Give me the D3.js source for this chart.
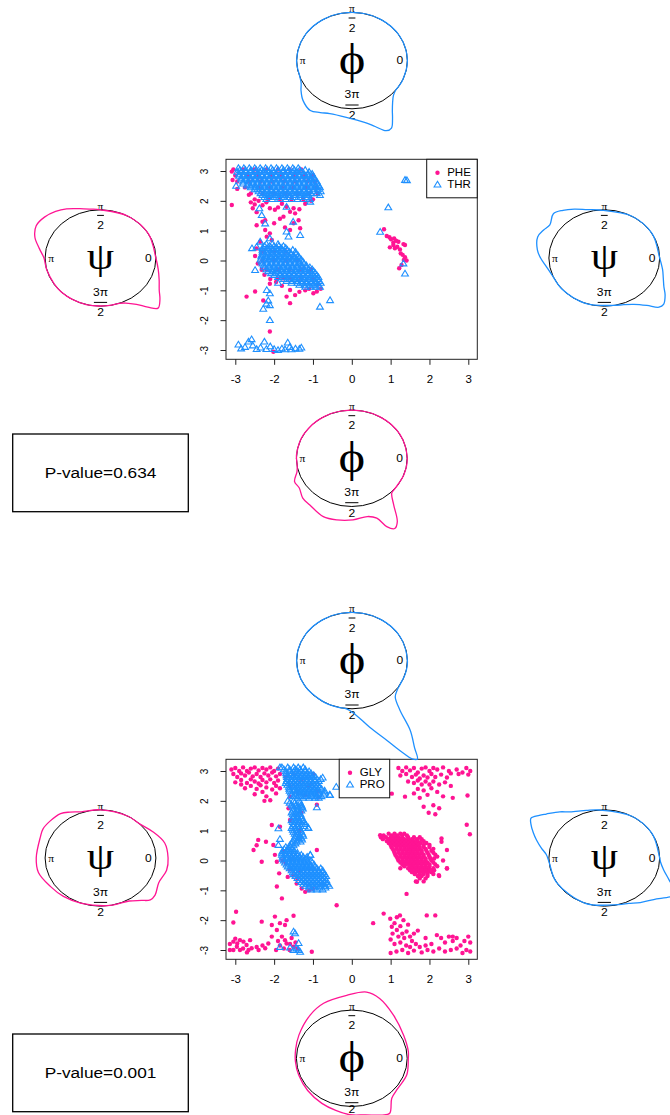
<!DOCTYPE html>
<html><head><meta charset="utf-8">
<script src="https://cdn.jsdelivr.net/npm/d3@7"></script>
<style>body{margin:0;background:#fff}svg{display:block}</style>
</head><body>
<svg id="c" width="670" height="1115"></svg>
<script>
// ---------------- DATA ----------------
const TICKS = [-3,-2,-1,0,1,2,3];
const PVALUES = ["P-value=0.634", "P-value=0.001"];
const LEG_TOP = ["PHE", "THR"];
const LEG_BOT = ["GLY", "PRO"];

// dense clusters: [y, x1, x2, ...]
const PHE_rows = [
 [3.05,-3.05,-2.8,-2.5,-2.2,-1.9,-1.6,-1.3],
 [2.85,-3.0,-2.7,-2.4,-2.1,-1.8,-1.5,-1.2,-1.0],
 [2.65,-2.95,-2.65,-2.35,-2.05,-1.75,-1.45,-1.15,-0.95],
 [2.45,-2.75,-2.4,-2.1,-1.8,-1.5,-1.2,-0.9],
 [2.25,-2.6,-2.3,-2.0,-1.7,-1.4,-1.1,-0.88],
 [2.05,-2.5,-2.15,-1.85,-1.55,-1.25,-1.0],
 [0.3,-2.3,-2.0,-1.7],
 [0.0,-2.3,-2.0,-1.7,-1.4],
 [-0.3,-2.2,-1.9,-1.6,-1.3,-1.05],
 [-0.6,-1.9,-1.6,-1.3,-1.0]
];
const PHE_pts = [
 [-3.09,2.98],[-3.07,2.7],[-3.09,1.86],[-2.95,2.4],[-2.65,2.2],[-2.6,1.95],[-2.5,1.88],[-2.55,1.75],[-2.45,1.62],[-2.4,2.0],
 [-2.3,1.85],[-2.2,1.95],[-2.11,1.75],[-1.98,1.7],[-1.9,1.78],[-1.8,1.9],[-1.68,1.8],[-1.59,1.63],[-1.5,1.75],[-1.46,1.58],
 [-1.35,1.72],[-1.2,1.9],[-1.05,2.0],[-1.37,1.35],[-1.33,1.08],[-1.85,1.4],[-1.76,1.47],[-2.23,1.35],[-2.45,1.18],[-2.3,1.3],
 [-2.23,1.02],[-2.11,0.91],[-2.19,0.8],[-2.06,0.69],[-1.72,1.11],[-1.59,1.02],[-1.5,1.25],[-2.0,1.25],
 [-2.45,0.4],[-2.36,0.63],[-2.49,0.15],[-2.42,-0.1],[-2.32,-0.31],[-2.25,-0.48],[-2.1,-0.62],[-2.11,-0.78],[-1.95,-0.72],
 [-1.8,-0.85],[-1.76,-0.6],[-1.59,-0.99],[-1.68,-1.21],[-1.59,-1.43],[-1.46,-1.16],[-1.35,-1.05],[-1.2,-1.0],[-1.1,-0.95],
 [-0.99,-1.1],[-0.9,-1.04],[-0.8,-0.95],[-0.85,-0.8],[-2.71,-1.21],[-2.49,-1.04],[-2.28,-1.34],[-2.11,-2.38],[-2.02,-3.06],
 [0.83,1.05],[0.9,0.82],[0.97,0.78],[1.01,0.71],[1.09,0.74],[1.14,0.66],[1.2,0.63],[1.07,0.52],[0.98,0.44],[1.11,0.41],
 [1.17,0.46],[1.24,0.37],[1.33,0.55],[1.37,0.52],[1.26,0.24],[1.31,0.19],[1.37,0.11],[1.41,0.0],[1.34,0.02],[1.22,-0.26],
 [1.28,-0.15],[1.07,0.6]
];
const THR_rows = [
 [3.10,-2.92,-2.78,-2.64,-2.5,-2.36,-2.22,-2.08,-1.94,-1.8,-1.66,-1.52,-1.38],
 [3.035,-2.88,-2.74,-2.6,-2.46,-2.32,-2.18,-2.04,-1.9,-1.76,-1.62,-1.48,-1.34,-1.2],
 [2.97,-2.95,-2.85,-2.73,-2.61,-2.49,-2.37,-2.25,-2.13,-2.01,-1.89,-1.77,-1.65,-1.53,-1.41,-1.29,-1.1],
 [2.905,-2.9,-2.79,-2.67,-2.55,-2.43,-2.31,-2.19,-2.07,-1.95,-1.83,-1.71,-1.59,-1.47,-1.35,-1.23,-1.12,-1.02],
 [2.84,-2.9,-2.79,-2.67,-2.55,-2.43,-2.31,-2.19,-2.07,-1.95,-1.83,-1.71,-1.59,-1.47,-1.35,-1.23,-1.11,-1.0],
 [2.775,-2.85,-2.73,-2.61,-2.49,-2.37,-2.25,-2.13,-2.01,-1.89,-1.77,-1.65,-1.53,-1.41,-1.29,-1.17,-1.05,-0.97],
 [2.71,-2.85,-2.73,-2.61,-2.49,-2.37,-2.25,-2.13,-2.01,-1.89,-1.77,-1.65,-1.53,-1.41,-1.29,-1.17,-1.05,-0.95],
 [2.645,-2.8,-2.67,-2.55,-2.43,-2.31,-2.19,-2.07,-1.95,-1.83,-1.71,-1.59,-1.47,-1.35,-1.23,-1.11,-1.0,-0.9],
 [2.58,-2.8,-2.67,-2.55,-2.43,-2.31,-2.19,-2.07,-1.95,-1.83,-1.71,-1.59,-1.47,-1.35,-1.23,-1.11,-0.99,-0.9],
 [2.515,-2.7,-2.61,-2.49,-2.37,-2.25,-2.13,-2.01,-1.89,-1.77,-1.65,-1.53,-1.41,-1.29,-1.17,-1.05,-0.93,-0.85],
 [2.45,-2.6,-2.49,-2.37,-2.25,-2.13,-2.01,-1.89,-1.77,-1.65,-1.53,-1.41,-1.29,-1.17,-1.05,-0.93,-0.82],
 [2.385,-2.5,-2.43,-2.31,-2.19,-2.07,-1.95,-1.83,-1.71,-1.59,-1.47,-1.35,-1.23,-1.11,-0.99,-0.87],
 [2.32,-2.4,-2.31,-2.19,-2.07,-1.95,-1.83,-1.71,-1.59,-1.47,-1.35,-1.23,-1.11,-0.99,-0.8],
 [2.255,-2.35,-2.25,-2.13,-2.01,-1.89,-1.77,-1.65,-1.53,-1.41,-1.29,-1.17,-1.05,-0.9],
 [2.19,-2.3,-2.19,-2.07,-1.95,-1.83,-1.71,-1.59,-1.47,-1.35,-1.23,-1.11,-0.82],
 [2.125,-2.25,-2.13,-2.0,-1.88,-1.76,-1.62,-1.47,-1.32,-1.17],
 [2.06,-2.2,-2.05,-1.85,-1.7,-1.55,-1.4,-1.25,-1.08],
 [0.55,-2.2,-2.05,-1.9],
 [0.485,-2.25,-2.12,-2.0,-1.88,-1.76],
 [0.42,-2.3,-2.18,-2.06,-1.94,-1.82,-1.7],
 [0.355,-2.3,-2.14,-2.02,-1.9,-1.78,-1.66,-1.52],
 [0.29,-2.3,-2.2,-2.08,-1.96,-1.84,-1.72,-1.6,-1.45],
 [0.225,-2.3,-2.16,-2.04,-1.92,-1.8,-1.68,-1.56,-1.44],
 [0.16,-2.33,-2.22,-2.1,-1.98,-1.86,-1.74,-1.62,-1.5,-1.38],
 [0.095,-2.33,-2.19,-2.07,-1.95,-1.83,-1.71,-1.59,-1.47,-1.35],
 [0.03,-2.35,-2.25,-2.13,-2.01,-1.89,-1.77,-1.65,-1.53,-1.41,-1.3],
 [-0.035,-2.32,-2.19,-2.07,-1.95,-1.83,-1.71,-1.59,-1.47,-1.35,-1.26],
 [-0.10,-2.3,-2.19,-2.07,-1.95,-1.83,-1.71,-1.59,-1.47,-1.35,-1.23],
 [-0.165,-2.27,-2.13,-2.01,-1.89,-1.77,-1.65,-1.53,-1.41,-1.29,-1.17],
 [-0.23,-2.25,-2.13,-2.01,-1.89,-1.77,-1.65,-1.53,-1.41,-1.29,-1.17,-1.08],
 [-0.295,-2.2,-2.07,-1.95,-1.83,-1.71,-1.59,-1.47,-1.35,-1.23,-1.11,-1.02],
 [-0.36,-2.15,-2.03,-1.91,-1.79,-1.67,-1.55,-1.43,-1.31,-1.19,-1.07,-0.98],
 [-0.425,-2.08,-1.97,-1.85,-1.73,-1.61,-1.49,-1.37,-1.25,-1.13,-1.02,-0.94],
 [-0.49,-2.0,-1.85,-1.73,-1.61,-1.49,-1.37,-1.25,-1.13,-1.01,-0.9],
 [-0.555,-1.9,-1.79,-1.67,-1.55,-1.43,-1.31,-1.19,-1.07,-0.95,-0.86],
 [-0.62,-1.75,-1.6,-1.48,-1.36,-1.24,-1.12,-1.0,-0.88],
 [-0.685,-1.68,-1.54,-1.42,-1.3,-1.18,-1.06,-0.94,-0.84],
 [-0.75,-1.9,-1.55,-1.4,-1.28,-1.16,-1.04,-0.92,-0.8],
 [-0.815,-1.35,-1.22,-1.1,-0.98,-0.87],
 [-0.88,-1.2,-1.05,-0.93,-0.82]
];
const THR_pts = [
 [-2.98,2.5],[-2.38,1.75],[-2.32,1.52],[-2.23,1.24],[-1.68,0.97],[-1.33,0.85],[-1.51,1.3],[-1.63,0.8],[-2.45,0.46],[-2.11,0.74],
 [-2.57,0.41],[-2.49,-0.32],[-2.36,0.63],[-1.07,1.97],[-1.68,1.8],[-2.19,-0.99],[-2.11,-1.1],[-2.15,-1.34],[-2.11,-1.5],[-2.28,-1.62],
 [-2.2,-1.45],[-2.11,-2.0],[-0.82,-1.55],[-0.56,-1.33],[1.37,2.7],[1.42,2.69],[0.94,1.78],[0.73,0.96],[1.33,-0.1],[1.37,-0.44],
 [-2.92,-2.82],[-2.85,-2.95],[-2.75,-2.9],[-2.66,-2.72],[-2.58,-2.64],[-2.55,-2.85],[-2.45,-2.97],[-2.35,-2.92],[-2.25,-2.72],
 [-2.2,-2.97],[-2.1,-2.88],[-2.0,-2.97],[-1.9,-3.0],[-1.8,-2.95],[-1.72,-2.98],[-1.65,-2.75],[-1.6,-2.9],[-1.55,-2.98],
 [-1.45,-2.95],[-1.35,-2.96],[-1.3,-2.92]
];
const GLY_rows = [
 [0.9,0.95,1.1,1.25,1.35],
 [0.84,0.82,1.03,1.17,1.3,1.42],
 [0.78,0.75,0.88,1.0,1.1,1.2,1.3,1.45,1.6,1.75],
 [0.715,0.8,0.95,1.05,1.15,1.25,1.35,1.45,1.55,1.68,1.8],
 [0.65,0.9,1.0,1.1,1.2,1.3,1.4,1.5,1.6,1.7,1.85],
 [0.585,0.95,1.05,1.15,1.25,1.35,1.45,1.55,1.65,1.77,1.92],
 [0.52,1.0,1.1,1.2,1.3,1.4,1.5,1.6,1.7,1.85,2.0],
 [0.455,1.02,1.15,1.25,1.35,1.45,1.55,1.65,1.75,1.85,2.0],
 [0.39,1.05,1.15,1.25,1.35,1.45,1.55,1.65,1.75,1.9,2.1],
 [0.325,1.08,1.2,1.3,1.4,1.5,1.6,1.7,1.8,1.92,2.05],
 [0.26,1.1,1.2,1.3,1.4,1.5,1.6,1.7,1.8,1.95,2.1],
 [0.195,1.12,1.25,1.35,1.45,1.55,1.65,1.75,1.85,1.98,2.15],
 [0.13,1.15,1.25,1.35,1.45,1.55,1.65,1.75,1.85,2.0,2.2],
 [0.065,1.18,1.3,1.4,1.5,1.6,1.7,1.8,1.9,2.02,2.12],
 [0.0,1.2,1.3,1.4,1.5,1.6,1.7,1.8,1.9,2.05,2.35],
 [-0.065,1.25,1.35,1.45,1.55,1.65,1.75,1.85,1.95,2.1],
 [-0.13,1.3,1.4,1.5,1.6,1.7,1.8,1.9,2.0,2.15],
 [-0.195,1.35,1.5,1.6,1.7,1.8,1.9,2.0,2.2],
 [-0.26,1.25,1.45,1.55,1.65,1.75,1.85,1.95,2.1,2.45],
 [-0.325,1.5,1.6,1.7,1.8,1.9,2.0,2.12],
 [-0.39,1.55,1.65,1.75,1.85,1.95,2.05],
 [-0.455,1.62,1.75,1.85,1.95,2.1],
 [-0.52,1.7,1.8,1.95,2.25],
 [-0.6,1.75,1.9],
 [-0.7,1.65,1.85]
];
const GLY_pts = [
 [-3.1,3.05],[-3.0,3.1],[-2.9,3.0],[-2.8,3.12],[-2.7,3.0],[-2.6,3.08],[-2.5,3.12],[-2.4,3.02],[-2.3,3.1],[-2.2,3.05],[-2.1,3.12],[-2.0,3.0],[-1.9,3.08],
 [-3.05,2.9],[-2.95,2.8],[-2.85,2.92],[-2.75,2.85],[-2.65,2.95],[-2.55,2.82],[-2.45,2.9],[-2.35,2.8],[-2.25,2.92],[-2.15,2.85],[-2.05,2.95],[-1.95,2.82],[-1.85,2.9],
 [-3.0,2.62],[-2.85,2.7],[-2.7,2.6],[-2.6,2.72],[-2.5,2.65],[-2.4,2.58],[-2.3,2.7],[-2.2,2.62],[-2.1,2.72],[-2.0,2.6],[-1.9,2.68],
 [-2.75,2.42],[-2.6,2.5],[-2.45,2.4],[-2.35,2.52],[-2.2,2.45],[-2.05,2.38],[-1.95,2.5],[-1.85,2.42],
 [-2.5,2.22],[-2.3,2.3],[-2.2,2.15],[-2.1,2.02],[-2.25,2.0],[-1.95,2.25],[-2.85,2.55],
 [-1.7,2.8],[-1.5,2.9],[-1.3,2.7],[-1.1,2.5],[-0.9,2.3],[-1.4,2.3],[-1.2,2.2],[-1.6,2.5],[-0.85,2.12],[-1.0,2.9],
 [-1.59,2.14],[-1.63,1.75],[-1.59,1.36],[-0.9,1.87],[-1.3,1.6],[-1.35,1.0],
 [-2.53,0.35],[-2.45,0.51],[-2.41,0.69],[-2.21,0.63],[-2.02,0.52],[-2.32,-0.04],[-1.98,0.19],[-1.93,-0.04],[-1.87,-0.43],
 [-1.93,-0.87],[-1.8,-1.27],[-0.9,0.35],[-0.39,-1.5],[-2.06,1.19],[-1.85,1.13],[-1.75,0.3],[-1.78,0.0],
 [-1.5,-0.5],[-1.42,-0.77],[-1.29,-0.94],[-1.2,-1.05],[-1.1,-1.0],[-1.0,-0.95],[-1.33,-0.36],[-1.6,-0.3],[-1.7,-0.1],[-1.55,0.05],[-1.65,-0.55],[-1.4,-0.62],
 [1.2,3.1],[1.3,3.0],[1.4,3.12],[1.5,3.02],[1.6,3.1],[1.7,2.95],[1.8,3.08],[1.9,3.12],[2.0,3.0],[2.1,3.1],[2.2,3.05],[2.35,3.12],[2.5,3.0],
 [2.7,3.05],[2.85,2.95],[2.95,3.1],[3.05,3.0],[2.75,2.9],[3.0,2.88],
 [1.25,2.85],[1.4,2.9],[1.55,2.8],[1.65,2.88],[1.75,2.75],[1.85,2.85],[1.95,2.78],[2.05,2.9],[2.15,2.8],[2.3,2.88],[2.45,2.78],[2.55,2.92],
 [1.45,2.65],[1.6,2.6],[1.7,2.68],[1.8,2.55],[1.9,2.65],[2.0,2.55],[2.1,2.65],[2.25,2.55],[2.4,2.62],[2.55,2.5],
 [1.7,2.4],[1.85,2.35],[2.05,2.42],[2.2,2.3],[1.6,2.25],[1.75,2.1],[2.35,2.15],[1.95,2.2],
 [1.03,2.24],[1.37,2.14],[1.85,1.8],[1.98,1.6],[2.1,1.85],[2.15,1.55],[2.25,1.75],[2.6,2.1],[2.98,2.18],[2.96,1.2],[3.04,0.88],
 [1.41,-1.12],[2.31,0.74],[2.31,0.63],[2.45,-0.27],[2.24,-0.49],[2.45,0.35],[0.73,0.85],[1.68,-0.71],[2.02,-0.32],
 [-3.14,-2.8],[-3.05,-2.72],[-2.96,-2.89],[-2.88,-3.0],[-2.79,-2.72],[-2.71,-2.83],[-2.62,-2.67],[-3.05,-3.0],[-2.88,-2.67],
 [-3.14,-3.0],[-2.66,-3.0],[-2.58,-2.94],[-2.95,-2.78],[-2.8,-2.95],[-2.7,-3.08],[-3.0,-2.62],[-2.98,-1.72],[-3.05,-2.08],
 [-2.32,-2.05],[-2.23,-2.94],[-2.15,-2.78],[-2.06,-2.55],[-1.98,-1.88],[-2.06,-2.16],[-1.93,-2.33],[-1.85,-2.1],[-1.72,-2.16],
 [-1.68,-2.0],[-1.8,-2.55],[-1.72,-2.67],[-1.68,-2.78],[-1.59,-2.8],[-1.5,-2.89],[-1.6,-3.0],[-1.75,-2.95],[-1.85,-2.85],
 [-1.95,-3.0],[-1.55,-2.6],[-1.45,-2.75],[-1.4,-2.95],[-1.03,-3.06],[-2.4,-3.0],[-2.3,-2.85],[-1.5,-1.85],[-1.9,-2.7],[-2.45,-2.9],
 [0.55,-2.1],[0.82,-1.78],[0.99,-1.95],[1.16,-1.9],[1.24,-1.84],[1.33,-2.0],[1.03,-2.22],[1.16,-2.33],[1.41,-2.38],[1.1,-2.1],
 [1.25,-2.2],[1.05,-2.45],[1.2,-2.55],[1.35,-2.6],[1.5,-2.55],[1.6,-2.45],[1.7,-2.35],[1.0,-2.65],[1.1,-2.8],[1.25,-2.75],
 [1.4,-2.85],[1.55,-2.7],[1.65,-2.8],[1.75,-2.9],[1.15,-3.05],[1.3,-3.0],[1.45,-3.1],[1.6,-3.02],[1.8,-3.08],[1.95,-3.0],
 [2.1,-3.05],[1.0,-3.1],[1.93,-1.84],[2.15,-1.84],[1.9,-2.6],[2.05,-2.8],[2.19,-2.5],[2.3,-2.6],[2.4,-2.75],[2.5,-2.55],
 [2.6,-2.7],[2.7,-2.6],[2.8,-2.85],[2.9,-2.7],[3.0,-2.55],[3.05,-2.75],[2.95,-3.0],[2.85,-3.1],[2.7,-2.95],[2.55,-3.0],
 [2.4,-3.05],[2.25,-2.95],[3.05,-3.05],[2.6,-2.55],[1.45,-2.15],[1.3,-2.45],[1.5,-2.9],[1.9,-2.85]
];
const PRO_rows = [
 [3.12,-1.8,-1.65,-1.5,-1.38,-1.25],
 [3.055,-1.75,-1.6,-1.45,-1.33,-1.2],
 [2.99,-1.7,-1.6,-1.5,-1.4,-1.3,-1.2,-1.1],
 [2.925,-1.69,-1.55,-1.45,-1.35,-1.25,-1.15,-1.05],
 [2.86,-1.68,-1.58,-1.48,-1.38,-1.28,-1.18,-1.08,-0.98],
 [2.795,-1.67,-1.53,-1.43,-1.33,-1.23,-1.13,-1.03,-0.93],
 [2.73,-1.66,-1.56,-1.46,-1.36,-1.26,-1.16,-1.06,-0.96,-0.8],
 [2.665,-1.68,-1.55,-1.45,-1.35,-1.25,-1.15,-1.05,-0.95,-0.85],
 [2.6,-1.7,-1.6,-1.5,-1.4,-1.3,-1.2,-1.1,-1.0,-0.9],
 [2.535,-1.66,-1.55,-1.45,-1.35,-1.25,-1.15,-1.05,-0.95,-0.87],
 [2.47,-1.62,-1.52,-1.42,-1.32,-1.22,-1.12,-1.02,-0.92,-0.84],
 [2.405,-1.61,-1.47,-1.37,-1.27,-1.17,-1.07,-0.97,-0.87,-0.78],
 [2.34,-1.6,-1.5,-1.4,-1.3,-1.2,-1.1,-1.0,-0.9,-0.7],
 [2.275,-1.57,-1.45,-1.35,-1.25,-1.15,-1.05,-0.95,-0.85,-0.7],
 [2.21,-1.55,-1.45,-1.35,-1.25,-1.15,-1.05,-0.95,-0.85,-0.72,-0.57],
 [2.155,-1.5,-1.32,-1.18,-1.02,-0.9,-0.78],
 [2.1,-1.4,-1.25,-1.1,-0.95,-0.85],
 [2.0,-1.65,-1.5,-1.35],
 [1.935,-1.6,-1.47,-1.33],
 [1.87,-1.55,-1.43,-1.3],
 [1.805,-1.52,-1.4,-1.28],
 [1.74,-1.5,-1.38,-1.26],
 [1.675,-1.52,-1.42,-1.3],
 [1.61,-1.55,-1.45,-1.35],
 [1.545,-1.52,-1.42,-1.32],
 [1.48,-1.5,-1.4,-1.3],
 [1.415,-1.52,-1.42,-1.3],
 [1.35,-1.55,-1.45,-1.35,-1.25],
 [1.285,-1.52,-1.42,-1.32,-1.22],
 [1.22,-1.5,-1.4,-1.3,-1.2],
 [1.155,-1.52,-1.42,-1.32,-1.22],
 [1.09,-1.55,-1.45,-1.35,-1.12],
 [1.025,-1.52,-1.42,-1.32],
 [0.96,-1.5,-1.4,-1.3],
 [0.895,-1.47,-1.37,-1.27],
 [0.83,-1.45,-1.35,-1.25],
 [0.765,-1.47,-1.37,-1.3],
 [0.7,-1.5,-1.38,-1.28],
 [0.635,-1.52,-1.42,-1.32],
 [0.57,-1.55,-1.45],
 [0.51,-1.6,-1.5],
 [0.45,-1.7,-1.58],
 [0.385,-1.74,-1.63,-1.53],
 [0.32,-1.78,-1.68,-1.58,-1.48],
 [0.255,-1.8,-1.7,-1.6,-1.5,-1.4],
 [0.19,-1.8,-1.7,-1.6,-1.5,-1.4,-1.3,-1.07],
 [0.125,-1.78,-1.65,-1.55,-1.45,-1.35,-1.25,-1.15],
 [0.06,-1.78,-1.68,-1.58,-1.48,-1.38,-1.28,-1.18],
 [-0.005,-1.75,-1.63,-1.53,-1.43,-1.33,-1.23,-1.13,-1.05],
 [-0.07,-1.72,-1.62,-1.52,-1.42,-1.32,-1.22,-1.12,-1.02],
 [-0.135,-1.68,-1.57,-1.47,-1.37,-1.27,-1.17,-1.07,-0.97],
 [-0.2,-1.65,-1.55,-1.45,-1.35,-1.25,-1.15,-1.05,-0.95],
 [-0.265,-1.6,-1.5,-1.4,-1.3,-1.2,-1.1,-1.0,-0.9,-0.8],
 [-0.33,-1.55,-1.45,-1.35,-1.25,-1.15,-1.05,-0.95,-0.85,-0.75],
 [-0.395,-1.52,-1.45,-1.35,-1.25,-1.15,-1.05,-0.95,-0.85,-0.75],
 [-0.46,-1.5,-1.4,-1.3,-1.2,-1.1,-1.0,-0.9,-0.8,-0.7],
 [-0.525,-1.45,-1.35,-1.25,-1.15,-1.05,-0.95,-0.85,-0.75,-0.66],
 [-0.59,-1.4,-1.3,-1.2,-1.1,-1.0,-0.9,-0.8,-0.7],
 [-0.655,-1.35,-1.25,-1.15,-1.05,-0.95,-0.85,-0.75,-0.66],
 [-0.72,-1.3,-1.2,-1.1,-1.0,-0.9,-0.8,-0.68],
 [-0.785,-1.25,-1.15,-1.05,-0.95,-0.85,-0.74,-0.63],
 [-0.85,-1.2,-1.1,-1.0,-0.9,-0.8,-0.68,-0.58],
 [-0.91,-1.1,-0.97,-0.83,-0.68],
 [-0.97,-1.05,-0.9,-0.75]
];
const PRO_pts = [
 [-0.4,2.47],[-0.56,2.19],[-1.85,3.12],[-0.75,2.78],[-1.89,1.08],[-1.85,0.72],[-1.89,0.52],[-0.9,1.78],[-1.07,0.19],[-1.12,1.1],
 [-1.3,1.78],[-1.46,-2.44],[-1.5,-2.38],[-1.37,-2.77],[-1.85,-2.9],[-1.59,-2.92],[-1.5,-3.0],[-1.37,-3.0],[-1.33,-3.06],[-1.42,-2.95]
];

// circular density outlines: [angle in degrees, radius relative to unit circle]
const DENS_PHI_THR = [[0,1],[30,1],[60,1],[90,1],[120,1],[150,1],[180,1],[200,1],[207,1.03],[214,1.11],[223,1.21],[234,1.28],[242,1.22],[250,1.17],[265,1.18],[280,1.3],[287,1.43],[293,1.58],[297,1.57],[301,1.42],[305,1.27],[310,1.14],[316,1.04],[322,1],[335,1]];
const DENS_PSI_PHE = [[0,1],[30,1],[60,1],[90,1],[100,1.03],[110,1.09],[121,1.19],[130,1.26],[140,1.32],[150,1.34],[160,1.26],[170,1.12],[180,1.02],[195,1],[225,1],[255,1],[280,1],[290,1.0],[296,1.04],[304,1.16],[310,1.33],[315,1.47],[321,1.38],[328,1.25],[337,1.15],[347,1.07]];
const DENS_PSI_THR = [[0,1],[30,1],[60,1],[95,1],[107,1.05],[118,1.15],[127,1.24],[135,1.3],[145,1.2],[152,1.24],[160,1.28],[172,1.22],[180,1.15],[190,1.06],[200,1.01],[220,1],[250,1],[280,1],[290,1.03],[299,1.1],[308,1.25],[314,1.42],[318,1.44],[325,1.34],[331,1.23],[339,1.14],[347,1.08]];
const DENS_PHI_PHE = [[0,1],[30,1],[60,1],[90,1],[120,1],[150,1],[175,1],[190,1],[196,1.03],[205,1.14],[213,1.13],[223,1.21],[232,1.23],[247,1.315],[258,1.306],[271,1.277],[283,1.24],[290,1.32],[294,1.55],[298,1.65],[302,1.55],[308,1.23],[315,1.02],[322,1],[340,1]];
const DENS_PHI_PRO = [[0,1],[30,1],[60,1],[90,1],[120,1],[150,1],[180,1],[210,1],[240,1],[255,1],[265,1.01],[274,1.14],[283,1.42],[291,1.78],[296,2.15],[298,2.31],[300,2.36],[302,2.13],[306,1.79],[310,1.35],[316,1.085],[323,1.02],[330,1],[345,1]];
const DENS_PSI_GLY = [[0,1.22],[15,1.2],[30,1.09],[45,1.0],[60,1.0],[90,1.0],[110,1.02],[120,1.1],[128,1.17],[140,1.19],[150,1.2],[158,1.17],[180,1.16],[195,1.16],[213,1.08],[230,1.04],[250,1.0],[280,1.0],[300,1.03],[310,1.15],[316,1.25],[322,1.25],[334,1.17],[348,1.22]];
const DENS_PSI_PRO = [[0,1],[30,1],[60,1],[95,1],[108,1.04],[123,1.14],[130,1.25],[139,1.39],[143,1.47],[148,1.56],[152,1.5],[158,1.38],[163,1.28],[170,1.15],[176,1.05],[185,1],[210,1],[250,1],[285,1],[295,1.04],[305,1.13],[316,1.24],[326,1.44],[330,1.5],[334,1.38],[339,1.25],[347,1.1],[355,1.02]];
const DENS_PHI_GLY = [[0,1.02],[8,1.03],[27,1.05],[50,1.17],[68,1.34],[79,1.4],[94,1.31],[114,1.25],[130,1.17],[153,1.07],[170,1.03],[184,1.02],[200,1.02],[220,1.04],[240,1.08],[255,1.12],[268,1.17],[282,1.2],[295,1.3],[301,1.33],[311,1.1],[323,1.04],[341,1.05]];

// ---------------- DRAWING ----------------
const PINK = "#FF1493", BLUE = "#1E90FF";
const SX = 1.15; // horizontal stretch of the original picture
const SANS = "'Liberation Sans', Arial, Helvetica, sans-serif";
const SERIF = "'Liberation Serif', 'DejaVu Serif', serif";
const svg = d3.select("#c");
svg.append("rect").attr("width",670).attr("height",1115).attr("fill","#fff");
const TRI = "M0,-3.3L3.4,2.4L-3.4,2.4Z";

function txt(g, x, y, s, size, fam, anchor, rot) {
  return g.append("text")
    .attr("transform", `translate(${x},${y}) scale(${SX},1)` + (rot ? ` rotate(${rot})` : ""))
    .attr("text-anchor", anchor || "middle").attr("dy", "0.35em")
    .attr("font-size", size).attr("font-family", fam).attr("fill", "#000").text(s);
}
const expand = (rows, pts) => rows.flatMap(([yy, ...xs]) => xs.map(xx => [xx, yy])).concat(pts);

function scatter(oy, pinkRows, pinkPts, blueRows, bluePts, names, legX) {
  const x = d3.scaleLinear().domain([-3, 3]).range([235.3, 468.3]);
  const y = d3.scaleLinear().domain([-3, 3]).range([350 + oy, 171 + oy]);
  const g = svg.append("g");
  g.append("g").selectAll("circle").data(expand(pinkRows, pinkPts)).join("circle")
    .attr("cx", d => x(d[0])).attr("cy", d => y(d[1])).attr("r", 2.2).attr("fill", PINK);
  g.append("g").selectAll("path").data(expand(blueRows, bluePts)).join("path")
    .attr("d", TRI).attr("transform", d => `translate(${x(d[0])},${y(d[1])})`)
    .attr("fill", "none").attr("stroke", BLUE).attr("stroke-width", 1.1);
  g.append("rect").attr("x", 226).attr("y", 159.3 + oy).attr("width", 251.3).attr("height", 200)
    .attr("fill", "none").attr("stroke", "#222").attr("stroke-width", 1);
  const xa = g.append("g").attr("transform", `translate(0,${359.3 + oy})`)
    .call(d3.axisBottom(x).tickValues(TICKS).tickSize(5.5).tickFormat(d => String(d)));
  xa.select(".domain").remove();
  xa.selectAll("line").attr("stroke", "#222");
  xa.selectAll("text").attr("y", null).attr("dy", "0.35em")
    .attr("transform", `translate(0,20) scale(${SX},1)`).attr("font-size", 10).attr("font-family", SANS).attr("fill", "#000");
  const ya = g.append("g").attr("transform", `translate(226,0)`)
    .call(d3.axisLeft(y).tickValues(TICKS).tickSize(5.5).tickFormat(d => String(d)));
  ya.select(".domain").remove();
  ya.selectAll("line").attr("stroke", "#222");
  ya.selectAll("text").attr("x", null).attr("dy", "0.35em").attr("text-anchor", "middle")
    .attr("transform", `translate(-22,0) scale(${SX},1) rotate(-90)`).attr("font-size", 10).attr("font-family", SANS).attr("fill", "#000");
  // legend
  const lg = g.append("g");
  const lw = 50.5, lh = 38.5;
  lg.append("rect").attr("x", legX).attr("y", 159.3 + oy).attr("width", lw).attr("height", lh)
    .attr("fill", "#fff").attr("stroke", "#111").attr("stroke-width", 1);
  lg.append("circle").attr("cx", legX + 10.8).attr("cy", 172.8 + oy).attr("r", 2.2).attr("fill", PINK);
  lg.append("path").attr("d", TRI).attr("transform", `translate(${legX + 10.8},${184.6 + oy})`)
    .attr("fill", "none").attr("stroke", BLUE).attr("stroke-width", 1.1);
  txt(lg, legX + 20.5, 172.8 + oy, names[0], 10, SANS, "start");
  txt(lg, legX + 20.5, 184.6 + oy, names[1], 10, SANS, "start");
}

function polar(cx, cy, letter, letterSize, dens, color) {
  const rx = 55.4, ry = 48.2;
  const sx = d3.scaleLinear().domain([-1, 1]).range([cx - rx, cx + rx]);
  const sy = d3.scaleLinear().domain([-1, 1]).range([cy + ry, cy - ry]);
  const g = svg.append("g");
  g.append("ellipse").attr("cx", sx(0)).attr("cy", sy(0)).attr("rx", sx(1) - sx(0)).attr("ry", sy(-1) - sy(0))
    .attr("fill", "none").attr("stroke", "#000").attr("stroke-width", 1);
  txt(g, sx(1) - 7.5, cy, "0", 10.5, SANS);
  txt(g, sx(-1) + 6, cy, "\u03C0", 10, SERIF);
  txt(g, cx, sy(1) - 3.5, "\u03C0", 10, SERIF);
  g.append("line").attr("x1", cx - 3.4).attr("x2", cx + 3.4).attr("y1", sy(1) + 5.6).attr("y2", sy(1) + 5.6).attr("stroke", "#000").attr("stroke-width", 1);
  txt(g, cx, sy(1) + 15.5, "2", 10.5, SANS);
  txt(g, cx, sy(-1) - 14, "3\u03C0", 10.5, SANS);
  g.append("line").attr("x1", cx - 6.6).attr("x2", cx + 6.6).attr("y1", sy(-1) - 3.8).attr("y2", sy(-1) - 3.8).attr("stroke", "#000").attr("stroke-width", 1);
  txt(g, cx, Math.min(sy(-1) + 6.5, 1109), "2", 10.5, SANS);
  g.append("text").attr("transform", `translate(${cx},${cy}) scale(${SX},1)`).attr("text-anchor", "middle")
    .attr("dy", "0.3em").attr("font-size", letterSize).attr("font-family", SERIF).text(letter);
  const rad = d => d[0] * Math.PI / 180;
  const line = d3.line()
    .x(d => sx(d[1] * Math.cos(rad(d))))
    .y(d => sy(d[1] * Math.sin(rad(d))))
    .curve(d3.curveCatmullRomClosed.alpha(0.5));
  g.append("path").attr("d", line(dens.slice().sort((a, b) => a[0] - b[0])))
    .attr("fill", "none").attr("stroke", color).attr("stroke-width", 1.3);
}

function pbox(oy, label) {
  const g = svg.append("g");
  g.append("rect").attr("x", 12.7).attr("y", 434 + oy).attr("width", 175.6).attr("height", 77.7)
    .attr("fill", "none").attr("stroke", "#000").attr("stroke-width", 1.3);
  txt(g, 100.5, 473 + oy, label, 15, SANS);
}

// top section
scatter(0, PHE_rows, PHE_pts, THR_rows, THR_pts, LEG_TOP, 426.7);
polar(352, 60.6, "\u03D5", 44, DENS_PHI_THR, BLUE);
polar(100.5, 258, "\u03C8", 38, DENS_PSI_PHE, PINK);
polar(604.3, 258, "\u03C8", 38, DENS_PSI_THR, BLUE);
polar(351.8, 458.3, "\u03D5", 44, DENS_PHI_PHE, PINK);
pbox(0, PVALUES[0]);
// bottom section
scatter(600, GLY_rows, GLY_pts, PRO_rows, PRO_pts, LEG_BOT, 339.2);
polar(352, 660.6, "\u03D5", 44, DENS_PHI_PRO, BLUE);
polar(100.5, 858, "\u03C8", 38, DENS_PSI_GLY, PINK);
polar(604.3, 858, "\u03C8", 38, DENS_PSI_PRO, BLUE);
polar(351.8, 1058.3, "\u03D5", 44, DENS_PHI_GLY, PINK);
pbox(600, PVALUES[1]);
</script>
</body></html>
